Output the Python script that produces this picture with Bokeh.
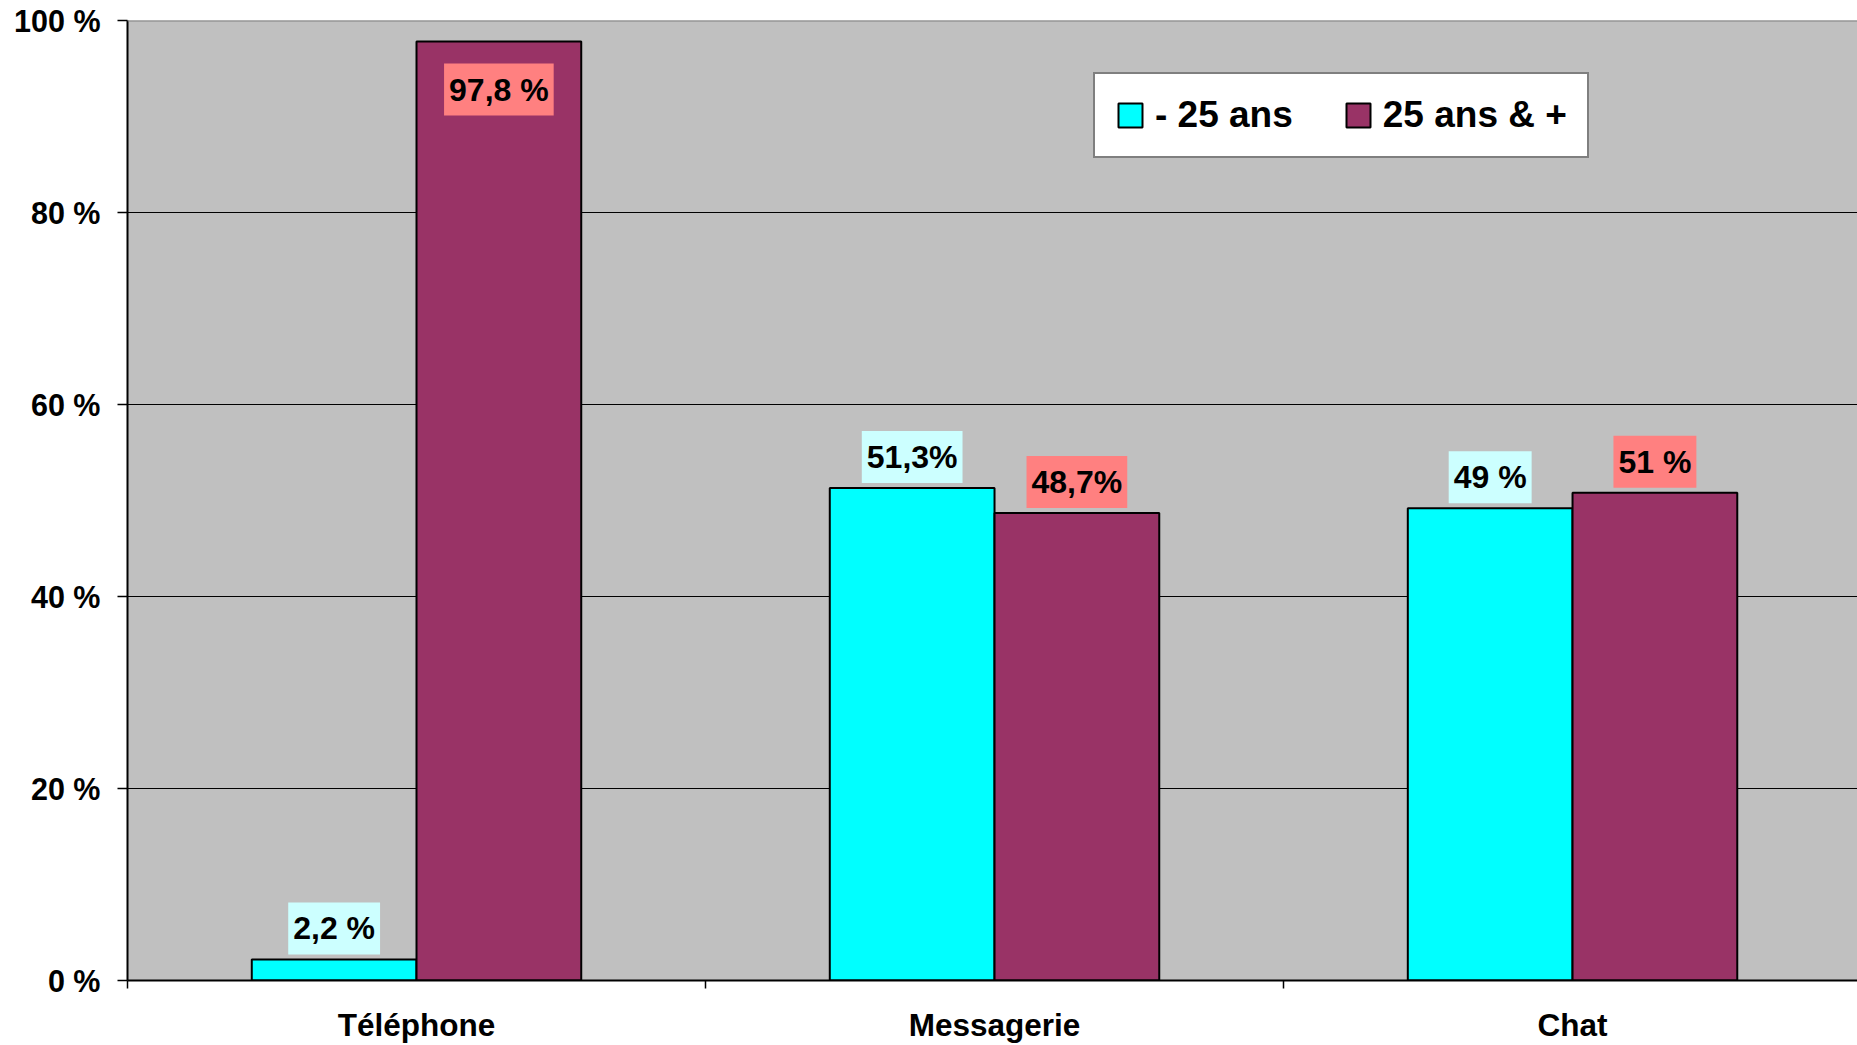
import numpy as np
from bokeh.plotting import figure
from bokeh.models import (Label, Range1d, FixedTicker,
                          Legend, LegendItem, Span)
from bokeh.embed import file_html
from bokeh.resources import INLINE

categories = ["Téléphone", "Messagerie", "Chat"]
series_names = ["- 25 ans", "25 ans & +"]
under25 = [2.2, 51.3, 49.2]
over25 = [97.8, 48.7, 50.8]
under25_labels = ["2,2 %", "51,3%", "49 %"]
over25_labels = ["97,8 %", "48,7%", "51 %"]
y_ticks = [0, 20, 40, 60, 80, 100]
y_tick_labels = ["0 %", "20 %", "40 %", "60 %", "80 %", "100 %"]

FONT = "Liberation Sans"
BAR_W = 0.285

p = figure(width=1857, height=1045, output_backend="svg", toolbar_location=None,
           x_range=Range1d(0, 2.993), y_range=Range1d(0, 100),
           min_border_left=127, min_border_top=20, min_border_right=0,
           min_border_bottom=64)
p.background_fill_color = "#C0C0C0"
p.border_fill_color = "white"
p.outline_line_color = None

centers = np.arange(len(categories)) + 0.5
x1 = centers - BAR_W / 2
x2 = centers + BAR_W / 2

r1 = p.vbar(x=x1, top=under25, width=BAR_W, bottom=0, fill_color="#00FFFF",
            line_color="black", line_width=2)
r2 = p.vbar(x=x2, top=over25, width=BAR_W, bottom=0, fill_color="#993366",
            line_color="black", line_width=2)

# grid
p.xgrid.visible = False
p.ygrid.ticker = FixedTicker(ticks=[t for t in y_ticks if 0 < t < 100])
p.ygrid.grid_line_color = "black"
p.ygrid.grid_line_width = 1
p.add_layout(Span(location=100, dimension="width", line_color="#808080", line_width=2))

# y axis
p.yaxis.ticker = FixedTicker(ticks=y_ticks)
p.yaxis.major_label_overrides = {t: l for t, l in zip(y_ticks, y_tick_labels)}
p.yaxis.major_label_text_font = FONT
p.yaxis.major_label_text_font_style = "bold"
p.yaxis.major_label_text_font_size = "30.5px"
p.yaxis.major_label_text_color = "black"
p.yaxis.major_tick_out = 10
p.yaxis.major_tick_in = 0
p.yaxis.minor_tick_out = 0
p.yaxis.minor_tick_in = 0
p.yaxis.major_tick_line_color = "black"
p.yaxis.major_tick_line_width = 1.5
p.yaxis.axis_line_color = "black"
p.yaxis.axis_line_width = 2
p.yaxis.major_label_standoff = 17

# x axis
p.xaxis.ticker = FixedTicker(ticks=list(centers), minor_ticks=list(range(len(categories) + 1)))
p.xaxis.major_label_overrides = {float(c): n for c, n in zip(centers, categories)}
p.xaxis.major_label_text_font = FONT
p.xaxis.major_label_text_font_style = "bold"
p.xaxis.major_label_text_font_size = "31.5px"
p.xaxis.major_label_text_color = "black"
p.xaxis.major_tick_out = 0
p.xaxis.major_tick_in = 0
p.xaxis.minor_tick_out = 8
p.xaxis.minor_tick_in = 0
p.xaxis.minor_tick_line_color = "black"
p.xaxis.minor_tick_line_width = 1.5
p.xaxis.axis_line_color = "black"
p.xaxis.axis_line_width = 2
p.xaxis.major_label_standoff = 18

for xs, vals, texts, bg in [(x1, under25, under25_labels, "#CCFFFF"),
                            (x2, over25, over25_labels, "#FF8080")]:
    for x, v, t in zip(xs, vals, texts):
        off = 31 if v + 6 <= 100 else -48
        p.add_layout(Label(x=float(x), y=v, text=t, y_offset=off,
                           text_align="center", text_baseline="middle",
                           text_font=FONT, text_font_style="bold", text_font_size="32px",
                           text_color="black", background_fill_color=bg,
                           padding=dict(left=5, right=5, top=8, bottom=8)))

legend = Legend(items=[LegendItem(label=series_names[0], renderers=[r1]),
                       LegendItem(label=series_names[1], renderers=[r2])],
                orientation="horizontal", location=(966, 822))
legend.label_text_font = FONT
legend.label_text_font_style = "bold"
legend.label_text_font_size = "37px"
legend.label_text_color = "black"
legend.glyph_width = 30
legend.glyph_height = 30
legend.label_standoff = 10
legend.spacing = 50
legend.padding = 20
legend.margin = 0
legend.border_line_color = "black"
legend.border_line_width = 2
legend.background_fill_color = "white"
legend.background_fill_alpha = 1
p.add_layout(legend)

open("out.html", "w").write(file_html(p, INLINE))
